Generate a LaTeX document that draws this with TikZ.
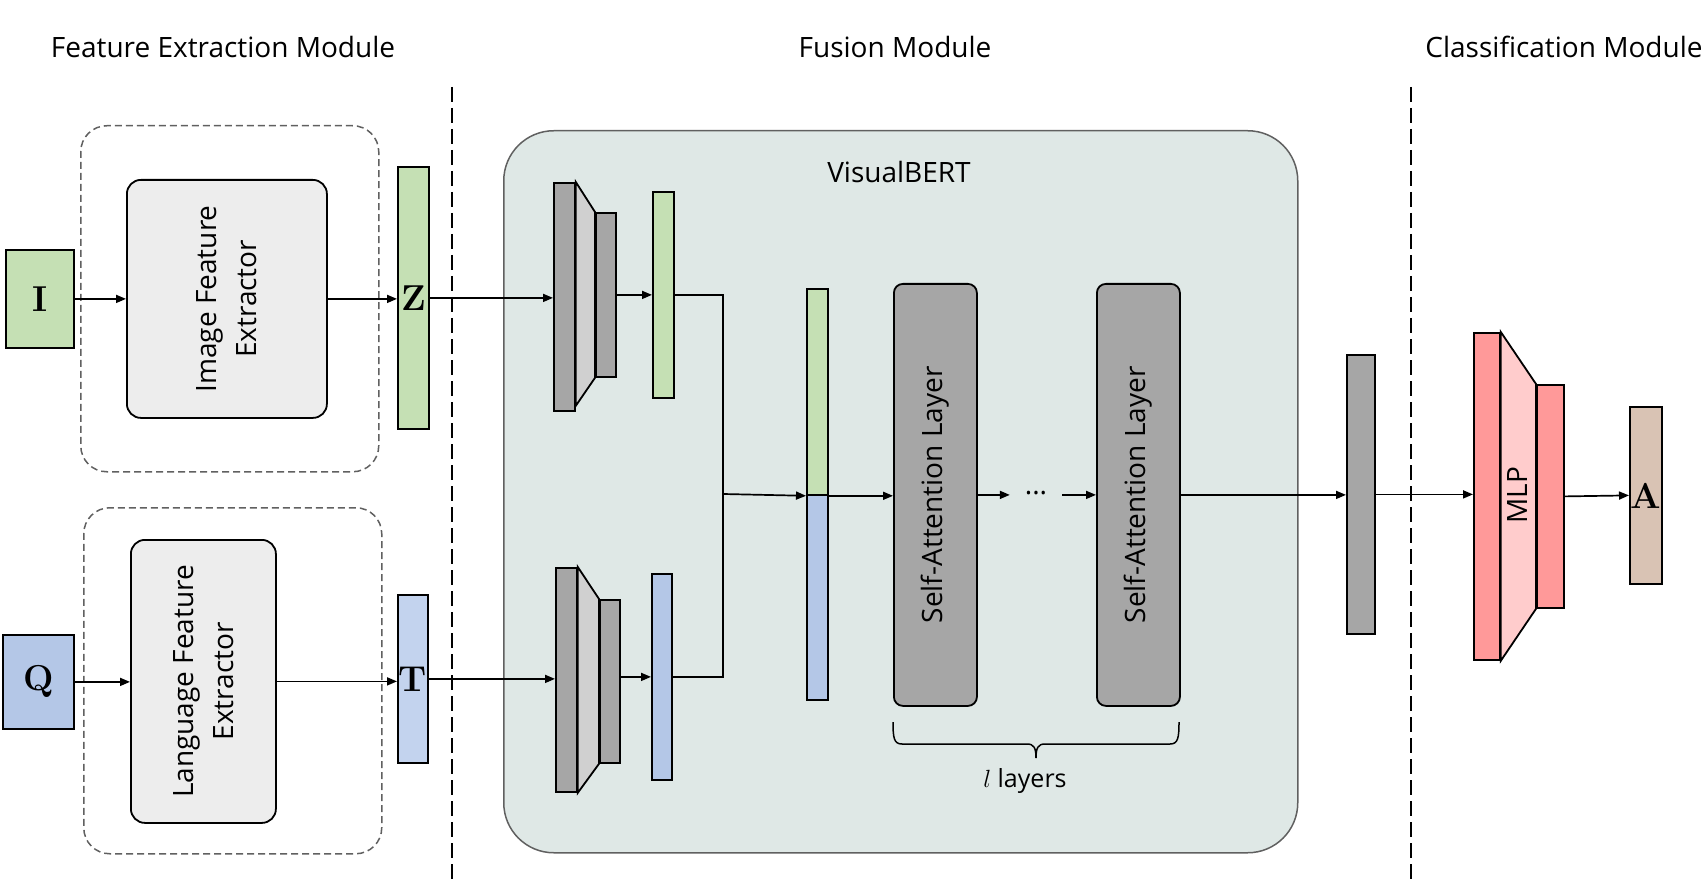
\documentclass[tikz,border=0pt]{standalone}
\usepackage{fontspec}
\setsansfont{Open Sans}
\usetikzlibrary{arrows.meta}
\definecolor{cgreen}{HTML}{C5E0B4}
\definecolor{cblue}{HTML}{B4C7E7}
\definecolor{cblueT}{HTML}{C3D3EE}
\definecolor{cgray}{HTML}{A6A6A6}
\definecolor{clight}{HTML}{D0D0D0}
\definecolor{cext}{HTML}{EDEDED}
\definecolor{cvb}{HTML}{DFE8E6}
\definecolor{cred}{HTML}{FF9999}
\definecolor{cpink}{HTML}{FFCCCC}
\definecolor{cans}{HTML}{D9C3B4}
\definecolor{cframe}{HTML}{606060}
\newcommand\labfont{\sffamily\fontsize{28}{40}\selectfont}
\newcommand\bigletter{\rmfamily\bfseries\fontsize{36}{36}\selectfont}
\begin{document}
\begin{tikzpicture}[x=1pt,y=-1pt,
  blk/.style={draw, line width=1.8pt, inner sep=0pt, anchor=north west},
  rblk/.style={blk, rounded corners=14pt, fill=cext},
  dbox/.style={draw=cframe, line width=1.5pt, dash pattern=on 7pt off 4pt, rounded corners=26pt, inner sep=0pt, anchor=north west},
  arr/.style={-{Triangle[length=10pt,width=8pt]}, line width=1.7pt},
  ln/.style={line width=1.7pt},
  vsep/.style={line width=1.8pt, dash pattern=on 15pt off 6pt},
  head/.style={font=\labfont, anchor=center}
]
\useasboundingbox (0,0) rectangle (1708,885);

% headings
\node[head] (h1) at (223,47) {Feature Extraction Module};
\node[head] (h2) at (895,47) {Fusion Module};
\node[head] (h3) at (1564,47) {Classification Module};

% separators
\draw[vsep] (452,87) -- (452,885);
\draw[vsep] (1411,87) -- (1411,885);

% feature extraction module
\node[dbox, minimum width=298pt, minimum height=346pt] (dtop) at (80,125) {};
\node[dbox, minimum width=298pt, minimum height=346pt] (dbot) at (83,507) {};
\node[blk, fill=cgreen, minimum width=68pt, minimum height=98pt] (I) at (5,249) {\bigletter I};
\node[blk, fill=cblue, minimum width=71pt, minimum height=94pt] (Q) at (2,634) {\bigletter Q};
\node[rblk, minimum width=200pt, minimum height=238pt] (ife) at (126,179) {};
\node[font=\labfont, rotate=90, align=center] at (ife.center) {Image Feature\\Extractor};
\node[rblk, minimum width=145pt, minimum height=283pt] (lfe) at (130,539) {};
\node[font=\labfont, rotate=90, align=center] at (lfe.center) {Language Feature\\Extractor};
\node[blk, fill=cgreen, minimum width=31pt, minimum height=262pt] (Z) at (397,166) {\bigletter Z};
\node[blk, fill=cblueT, minimum width=30pt, minimum height=168pt] (T) at (397,594) {\bigletter T};

\draw[arr] (I.east) -- (ife.west);
\draw[arr] (ife.east) -- (ife.east -| Z.west);
\draw[arr] (Q.east) -- (Q.east -| lfe.west);
\draw[arr] (lfe.east) -- (lfe.east -| T.west);

% fusion module
\node[blk, draw=cframe, line width=1.5pt, rounded corners=50pt, fill=cvb, minimum width=794pt, minimum height=722pt] (vb) at (503,130) {};
\node[font=\labfont] (vbl) at (899,172) {VisualBERT};

\node[blk, fill=cgray, minimum width=21pt, minimum height=228pt] (t1a) at (553,182) {};
\node[blk, fill=cgray, minimum width=20pt, minimum height=164pt] (t1b) at (595,212) {};
\draw[line width=1.8pt, fill=clight] (t1a.north east) -- (t1b.north west) -- (t1b.south west) -- ([yshift=6pt]t1a.south east) -- cycle;
\node[blk, fill=cgreen, minimum width=21pt, minimum height=206pt] (g1) at (652,191) {};

\node[blk, fill=cgray, minimum width=21pt, minimum height=224pt] (t2a) at (555,567) {};
\node[blk, fill=cgray, minimum width=20pt, minimum height=163pt] (t2b) at (599,599) {};
\draw[line width=1.8pt, fill=clight] (t2a.north east) -- (t2b.north west) -- (t2b.south west) -- (t2a.south east) -- cycle;
\node[blk, fill=cblue, minimum width=20pt, minimum height=206pt] (b1) at (651,573) {};

\draw[arr] (Z.east) -- (Z.east -| t1a.west);
\draw[arr] (T.east) -- (T.east -| t2a.west);
\draw[arr] (t1b.east) -- (t1b.east -| g1.west);
\draw[arr] (b1.west -| t2b.east) -- (b1.west);

\node[blk, fill=cgreen, minimum width=21pt, minimum height=206pt] (ctop) at (806,288) {};
\node[blk, fill=cblue, minimum width=21pt, minimum height=205pt] (cbot) at (806,494) {};
\coordinate (j) at (723,494);
\draw[ln] (g1.east) -| (j);
\draw[ln] (b1.east) -| (j);
\draw[arr] (j) -- (ctop.south west);

\node[blk, fill=cgray, rounded corners=9pt, minimum width=83pt, minimum height=422pt] (sa1) at (893,283) {};
\node[font=\labfont, rotate=90] at (sa1.center) {Self-Attention Layer};
\node[blk, fill=cgray, rounded corners=9pt, minimum width=83pt, minimum height=422pt] (sa2) at (1096,283) {};
\node[font=\labfont, rotate=90] at (sa2.center) {Self-Attention Layer};
\node[font=\labfont, anchor=base, inner sep=0pt, minimum width=52pt] (dots) at (1036,494) {...};

\draw[arr] (ctop.south east) -- (ctop.south east -| sa1.west);
\draw[arr] (sa1.east) -- (sa1.east -| dots.west);
\draw[arr] (sa2.west -| dots.east) -- (sa2.west);

% brace
\draw[line width=1.5pt] (893,722) .. controls (893,738) and (894,744) .. (902,744) -- (1027,744) .. controls (1034,744) and (1036,748) .. (1036,758);
\draw[line width=1.5pt] (1179,722) .. controls (1179,738) and (1178,744) .. (1170,744) -- (1045,744) .. controls (1038,744) and (1036,748) .. (1036,758);
\node[font=\sffamily\fontsize{25}{30}\selectfont] (ll) at (1025,781) {$l$ layers};

% classification module
\node[blk, fill=cgray, minimum width=28pt, minimum height=279pt] (gb) at (1346,354) {};
\draw[arr] (sa2.east) -- (sa2.east -| gb.west);

\node[blk, fill=cred, minimum width=26pt, minimum height=327pt] (m1) at (1473,332) {};
\node[blk, fill=cred, minimum width=27pt, minimum height=223pt] (m2) at (1536,384) {};
\draw[line width=1.8pt, fill=cpink] (m1.north east) -- (m2.north west) -- (m2.south west) -- (m1.south east) -- cycle;
\node[font=\labfont, rotate=90] (mlp) at (1517,495) {MLP};
\node[blk, fill=cans, minimum width=32pt, minimum height=177pt] (A) at (1629,406) {\bigletter A};

\draw[arr] (gb.east) -- (gb.east -| m1.west);
\draw[arr] (m2.east) -- (A.west);
\end{tikzpicture}
\end{document}
